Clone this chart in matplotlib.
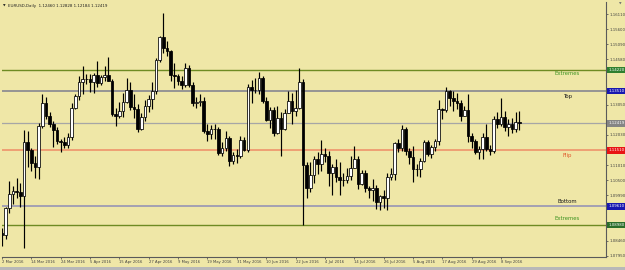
import matplotlib
matplotlib.use("Agg")
import matplotlib.pyplot as plt
import matplotlib.transforms as mtransforms
from matplotlib.patches import Rectangle

# ---------------- data ----------------
header = "EURUSD,Daily  1.12460 1.12828 1.12184 1.12419"

date_labels = ["2 Mar 2016", "14 Mar 2016", "24 Mar 2016", "5 Apr 2016", "15 Apr 2016",
               "27 Apr 2016", "9 May 2016", "19 May 2016", "31 May 2016", "10 Jun 2016",
               "22 Jun 2016", "4 Jul 2016", "14 Jul 2016", "26 Jul 2016", "5 Aug 2016",
               "17 Aug 2016", "29 Aug 2016", "8 Sep 2016"]
label_bars = [0, 8, 16, 24, 32, 40, 48, 56, 64, 72, 80, 88, 96, 104, 112, 120, 128, 136]

opens = [1.0870, 1.0865, 1.0955, 1.1004, 1.1012, 1.1011, 1.0996, 1.1178, 1.1153, 1.1108,
         1.1093, 1.1232, 1.1312, 1.1268, 1.1239, 1.1219, 1.1182, 1.1180, 1.1167, 1.1197,
         1.1295, 1.1333, 1.1380, 1.1392, 1.1390, 1.1380, 1.1404, 1.1378, 1.1397, 1.1405,
         1.1386, 1.1272, 1.1268, 1.1285, 1.1313, 1.1355, 1.1296, 1.1290, 1.1223, 1.1264,
         1.1300, 1.1325, 1.1352, 1.1454, 1.1535, 1.1495, 1.1485, 1.1405, 1.1402, 1.1385,
         1.1370, 1.1428, 1.1372, 1.1310, 1.1315, 1.1318, 1.1217, 1.1205, 1.1224, 1.1222,
         1.1141, 1.1158, 1.1193, 1.1114, 1.1136, 1.1130, 1.1187, 1.1153, 1.1365, 1.1356,
         1.1355, 1.1395, 1.1318, 1.1254, 1.1288, 1.1210, 1.1260, 1.1223, 1.1277, 1.1318,
         1.1283, 1.1295, 1.1380, 1.1100, 1.1022, 1.1066, 1.1121, 1.1105, 1.1137, 1.1132,
         1.1073, 1.1094, 1.1062, 1.1051, 1.1052, 1.1063, 1.1091, 1.1121, 1.1037, 1.1073,
         1.1022, 1.1016, 1.1025, 1.0975, 1.0995, 1.0990, 1.1061, 1.1071, 1.1174, 1.1160,
         1.1223, 1.1150, 1.1129, 1.1087, 1.1088, 1.1116, 1.1178, 1.1137, 1.1163, 1.1182,
         1.1290, 1.1288, 1.1351, 1.1327, 1.1318, 1.1309, 1.1266, 1.1286, 1.1198, 1.1182,
         1.1146, 1.1155, 1.1195, 1.1155, 1.1148, 1.1256, 1.1238, 1.1262, 1.1230, 1.1240,
         1.1222, 1.1246]
highs = [1.0890, 1.0960, 1.1046, 1.1030, 1.1057, 1.1040, 1.1218, 1.1215, 1.1160, 1.1130,
         1.1242, 1.1342, 1.1330, 1.1280, 1.1250, 1.1230, 1.1190, 1.1195, 1.1210, 1.1310,
         1.1340, 1.1400, 1.1437, 1.1410, 1.1409, 1.1413, 1.1453, 1.1405, 1.1435, 1.1465,
         1.1390, 1.1295, 1.1315, 1.1345, 1.1396, 1.1380, 1.1340, 1.1307, 1.1275, 1.1320,
         1.1339, 1.1380, 1.1464, 1.1536, 1.1616, 1.1520, 1.1490, 1.1445, 1.1410, 1.1400,
         1.1445, 1.1440, 1.1380, 1.1330, 1.1340, 1.1330, 1.1240, 1.1235, 1.1240, 1.1230,
         1.1180, 1.1215, 1.1200, 1.1145, 1.1155, 1.1200, 1.1195, 1.1374, 1.1388, 1.1395,
         1.1415, 1.1400, 1.1330, 1.1298, 1.1298, 1.1300, 1.1280, 1.1290, 1.1350, 1.1345,
         1.1355, 1.1428, 1.1390, 1.1110, 1.1110, 1.1130, 1.1145, 1.1185, 1.1160, 1.1150,
         1.1105, 1.1120, 1.1110, 1.1075, 1.1090, 1.1130, 1.1165, 1.1130, 1.1085, 1.1085,
         1.1030, 1.1055, 1.1035, 1.1000, 1.1015, 1.1075, 1.1090, 1.1180, 1.1190, 1.1235,
         1.1230, 1.1160, 1.1165, 1.1105, 1.1125, 1.1185, 1.1185, 1.1170, 1.1190, 1.1320,
         1.1295, 1.1366, 1.1355, 1.1350, 1.1345, 1.1320, 1.1300, 1.1340, 1.1210, 1.1190,
         1.1165, 1.1210, 1.1240, 1.1170, 1.1266, 1.1280, 1.1327, 1.1285, 1.1255, 1.1260,
         1.1280, 1.12828]
lows = [1.0826, 1.0850, 1.0940, 1.0970, 1.0990, 1.0960, 1.0822, 1.1094, 1.1082, 1.1058,
        1.1055, 1.1225, 1.1255, 1.1228, 1.1162, 1.1172, 1.1144, 1.1160, 1.1160, 1.1185,
        1.1290, 1.1320, 1.1342, 1.1375, 1.1347, 1.1343, 1.1365, 1.1370, 1.1385, 1.1385,
        1.1265, 1.1233, 1.1260, 1.1262, 1.1310, 1.1288, 1.1260, 1.1214, 1.1220, 1.1250,
        1.1280, 1.1290, 1.1340, 1.1450, 1.1480, 1.1470, 1.1385, 1.1360, 1.1370, 1.1358,
        1.1365, 1.1365, 1.1302, 1.1295, 1.1300, 1.1210, 1.1182, 1.1190, 1.1190, 1.1135,
        1.1130, 1.1150, 1.1098, 1.1105, 1.1108, 1.1125, 1.1148, 1.1145, 1.1310, 1.1345,
        1.1340, 1.1310, 1.1250, 1.1225, 1.1200, 1.1205, 1.1130, 1.1220, 1.1275, 1.1240,
        1.1265, 1.1290, 1.0898, 1.0990, 1.1010, 1.1040, 1.1070, 1.1080, 1.1110, 1.1030,
        1.1000, 1.1045, 1.1000, 1.1030, 1.1040, 1.1050, 1.1090, 1.1020, 1.1035, 1.1010,
        1.0990, 1.0980, 1.0953, 1.0950, 1.0955, 1.0950, 1.1050, 1.1050, 1.1145, 1.1150,
        1.1135, 1.1105, 1.1045, 1.1065, 1.1060, 1.1110, 1.1130, 1.1125, 1.1150, 1.1170,
        1.1255, 1.1280, 1.1300, 1.1285, 1.1290, 1.1250, 1.1265, 1.1180, 1.1160, 1.1137,
        1.1123, 1.1120, 1.1150, 1.1135, 1.1140, 1.1225, 1.1232, 1.1215, 1.1200, 1.1210,
        1.1212, 1.12184]
closes = [1.0865, 1.0955, 1.1004, 1.1012, 1.1011, 1.0996, 1.1178, 1.1153, 1.1108, 1.1093,
          1.1232, 1.1312, 1.1268, 1.1239, 1.1219, 1.1182, 1.1180, 1.1167, 1.1197, 1.1295,
          1.1333, 1.1380, 1.1392, 1.1390, 1.1380, 1.1404, 1.1378, 1.1397, 1.1405, 1.1386,
          1.1272, 1.1268, 1.1285, 1.1313, 1.1355, 1.1296, 1.1290, 1.1223, 1.1264, 1.1300,
          1.1325, 1.1352, 1.1454, 1.1535, 1.1495, 1.1485, 1.1405, 1.1402, 1.1385, 1.1370,
          1.1428, 1.1372, 1.1310, 1.1315, 1.1318, 1.1217, 1.1205, 1.1224, 1.1222, 1.1141,
          1.1158, 1.1193, 1.1114, 1.1136, 1.1130, 1.1187, 1.1153, 1.1365, 1.1356, 1.1355,
          1.1395, 1.1318, 1.1254, 1.1288, 1.1210, 1.1260, 1.1223, 1.1277, 1.1318, 1.1283,
          1.1295, 1.1380, 1.1100, 1.1022, 1.1066, 1.1121, 1.1105, 1.1137, 1.1132, 1.1073,
          1.1094, 1.1062, 1.1051, 1.1052, 1.1063, 1.1091, 1.1121, 1.1037, 1.1073, 1.1022,
          1.1016, 1.1025, 1.0975, 1.0995, 1.0990, 1.1061, 1.1071, 1.1174, 1.1160, 1.1223,
          1.1150, 1.1129, 1.1087, 1.1088, 1.1116, 1.1178, 1.1137, 1.1163, 1.1182, 1.1290,
          1.1288, 1.1351, 1.1327, 1.1318, 1.1309, 1.1266, 1.1286, 1.1198, 1.1182, 1.1146,
          1.1155, 1.1195, 1.1155, 1.1148, 1.1256, 1.1238, 1.1262, 1.1230, 1.1240, 1.1222,
          1.1246, 1.12419]

level_names = ["Extremes", "Top", "Flip", "Bottom", "Extremes"]
level_prices = [1.14220, 1.13510, 1.11510, 1.09610, 1.08980]
last_price = 1.12419

price_ticks = [1.16110, 1.15600, 1.15090, 1.14580, 1.14070, 1.13560, 1.13050, 1.12540,
               1.12030, 1.11520, 1.11010, 1.10500, 1.09990, 1.09480, 1.08970, 1.08460,
               1.07950]

# ---------------- style ----------------
BG = "#EFE7A7"
level_line_colors = ["#6E8B23", "#8A8A92", "#EE8C66", "#9A98B4", "#6E8B23"]
level_line_widths = [1.0, 1.25, 1.1, 1.25, 1.0]
level_text_colors = ["#3E9422", "#1A1A1A", "#E0582A", "#1A1A1A", "#3E9422"]
level_box_colors = ["#2F7F2F", "#1818B0", "#E81414", "#1818B0", "#2A6E2A"]
level_text_below = [True, True, True, False, False]
level_text_offset = [-1.5, -3.0, -3.0, 2.5, 4.5]   # pixels
last_color = "#A6A6A6"
last_box = "#858585"

W, H = 625, 270
fig = plt.figure(figsize=(W / 100, H / 100), dpi=100, facecolor=BG)
ax = fig.add_axes([2 / W, 13 / H, 604 / W, 255 / H])
ax.set_facecolor(BG)

# bottom window strip
fig.patches.append(Rectangle((0, 0), 1, 3.5 / H, transform=fig.transFigure,
                             facecolor="#B8B8B8", edgecolor="none", zorder=0))

n = len(opens)
bw = 0.72
for i in range(n):
    o, h, l, c = opens[i], highs[i], lows[i], closes[i]
    ax.vlines(i, l, h, color="black", lw=0.85, zorder=3)
    bull = c >= o
    lo_b = min(o, c)
    ht = abs(c - o)
    if ht < 0.00006:
        ax.hlines((o + c) / 2, i - bw / 2, i + bw / 2, color="black", lw=0.85, zorder=4)
    else:
        ax.add_patch(Rectangle((i - bw / 2, lo_b), bw, ht,
                               facecolor="white" if bull else "black",
                               edgecolor="black", lw=0.55, zorder=4))

px_per_bar = 3.671
xmin = 0.08
xmax = xmin + 604 / px_per_bar
ax.set_xlim(xmin, xmax)
ppx = 0.0003377
ymax = 1.16110 + 12 * ppx
ymin = 1.16110 - 243 * ppx
ax.set_ylim(ymin, ymax)

# level lines
trans_r = mtransforms.blended_transform_factory(ax.transAxes, ax.transData)
shift = mtransforms.ScaledTranslation(2.2 / 100, 0, fig.dpi_scale_trans)
for name, p, lc, lw, tc, bc, below, off in zip(level_names, level_prices, level_line_colors,
                                                level_line_widths, level_text_colors,
                                                level_box_colors, level_text_below,
                                                level_text_offset):
    ax.axhline(p, color=lc, lw=lw, zorder=2)
    ax.annotate(name, xy=(154.0, p), xycoords="data",
                xytext=(0, off * 0.72), textcoords="offset points",
                ha="center", va="top" if below else "bottom",
                fontsize=3.9, color=tc, zorder=5)
    ax.text(1.0, p, f"{p:.5f}", transform=trans_r + shift,
            ha="left", va="center", fontsize=2.8, color="white", clip_on=False, zorder=10,
            bbox=dict(boxstyle="square,pad=0.35", facecolor=bc, edgecolor="none"))

ax.axhline(last_price, color=last_color, lw=0.9, zorder=2)
ax.text(1.0, last_price, f"{last_price:.5f}", transform=trans_r + shift,
        ha="left", va="center", fontsize=2.8, color="white", clip_on=False, zorder=10,
        bbox=dict(boxstyle="square,pad=0.35", facecolor=last_box, edgecolor="none"))

# y ticks on right, skip those under boxes
all_levels = level_prices + [last_price]
shown = [t for t in price_ticks if min(abs(t - lv) for lv in all_levels) > 5.5 * ppx]
ax.yaxis.tick_right()
ax.set_yticks(shown)
ax.set_yticklabels([f"{t:.5f}" for t in shown])
ax.tick_params(axis="y", length=1.5, width=0.5, pad=0.8, labelsize=2.8,
               colors="#404040", direction="out")

ax.set_xticks(label_bars)
ax.set_xticklabels(date_labels)
for lab in ax.get_xticklabels():
    lab.set_horizontalalignment("left")
ax.tick_params(axis="x", length=1.5, width=0.5, pad=0.6, labelsize=2.7,
               colors="#404040", direction="out")

for s in ["left", "top"]:
    ax.spines[s].set_visible(False)
for s in ["right", "bottom"]:
    ax.spines[s].set_color("#5A5A5A")
    ax.spines[s].set_linewidth(0.8)

# header
fig.text(3 / W, 1 - 5.5 / H, "\u25BC", fontsize=2.4, color="#202020", va="center", ha="left")
fig.text(8 / W, 1 - 5.5 / H, header, fontsize=2.9, color="#202020", va="center", ha="left")
# chart shift marker
fig.text(619 / W, 1 - 3.5 / H, "\u25BC", fontsize=2.4, color="#707070", va="center", ha="left")

fig.savefig("out.png", dpi=100, facecolor=BG)
